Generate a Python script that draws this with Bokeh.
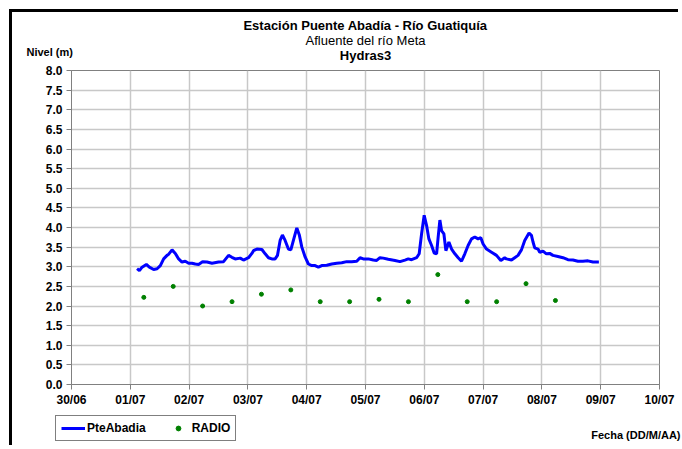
import numpy as np
import pandas as pd
from bokeh.plotting import figure
from bokeh.models import (FixedTicker, DatetimeTickFormatter, PrintfTickFormatter,
                          Legend, LegendItem, Range1d, Label)
from bokeh.embed import file_html
from bokeh.resources import INLINE

# ---------------- data ----------------
START = pd.Timestamp("2009-06-30 00:00")
TICK_LABELS = ["30/06", "01/07", "02/07", "03/07", "04/07", "05/07",
               "06/07", "07/07", "08/07", "09/07", "10/07"]
Y_TICKS = [0.0, 0.5, 1.0, 1.5, 2.0, 2.5, 3.0, 3.5, 4.0, 4.5, 5.0, 5.5, 6.0, 6.5, 7.0, 7.5, 8.0]

# PteAbadia: time in days after 30/06 00:00, level in m
pte_days = [1.115, 1.155, 1.200, 1.273, 1.324, 1.397, 1.455, 1.511, 1.567, 1.625,
            1.647, 1.710, 1.766, 1.822, 1.879, 1.935, 1.992, 2.049, 2.105, 2.161,
            2.229, 2.304, 2.389, 2.501, 2.586, 2.671, 2.728, 2.784, 2.869, 2.925,
            3.010, 3.068, 3.095, 3.153, 3.238, 3.294, 3.350, 3.407, 3.463, 3.503,
            3.548, 3.587, 3.633, 3.689, 3.730, 3.774, 3.832, 3.876, 3.917, 3.973,
            4.029, 4.087, 4.143, 4.199, 4.256, 4.341, 4.426, 4.511, 4.596, 4.681,
            4.766, 4.851, 4.907, 4.963, 5.048, 5.132, 5.190, 5.246, 5.302, 5.387,
            5.501, 5.586, 5.671, 5.727, 5.784, 5.869, 5.913, 5.954, 5.998, 6.039,
            6.078, 6.124, 6.168, 6.209, 6.236, 6.265, 6.294, 6.333, 6.367, 6.418,
            6.464, 6.520, 6.576, 6.633, 6.689, 6.745, 6.803, 6.859, 6.915, 6.961,
            7.000, 7.058, 7.143, 7.228, 7.301, 7.368, 7.397, 7.482, 7.538, 7.594,
            7.652, 7.708, 7.781, 7.822, 7.849, 7.878, 7.934, 7.963, 8.019, 8.076,
            8.132, 8.188, 8.273, 8.358, 8.443, 8.528, 8.613, 8.698, 8.783, 8.868,
            8.969]
pte_level = [2.95, 2.90, 2.99, 3.06, 2.99, 2.93, 2.95, 3.03, 3.20, 3.29,
             3.31, 3.43, 3.34, 3.20, 3.12, 3.14, 3.09, 3.09, 3.07, 3.06,
             3.13, 3.12, 3.09, 3.12, 3.13, 3.29, 3.24, 3.20, 3.22, 3.17,
             3.23, 3.34, 3.41, 3.45, 3.44, 3.33, 3.23, 3.20, 3.20, 3.29,
             3.67, 3.81, 3.67, 3.45, 3.43, 3.67, 3.99, 3.80, 3.50, 3.25,
             3.07, 3.03, 3.03, 2.99, 3.03, 3.04, 3.07, 3.09, 3.10, 3.13,
             3.13, 3.14, 3.23, 3.20, 3.20, 3.17, 3.16, 3.23, 3.22, 3.19,
             3.16, 3.13, 3.17, 3.20, 3.18, 3.23, 3.33, 3.84, 4.31, 4.05,
             3.71, 3.54, 3.35, 3.33, 3.76, 4.19, 3.92, 3.84, 3.41, 3.63,
             3.45, 3.33, 3.23, 3.14, 3.33, 3.54, 3.71, 3.76, 3.71, 3.74,
             3.58, 3.45, 3.37, 3.29, 3.16, 3.23, 3.20, 3.17, 3.23, 3.29,
             3.43, 3.67, 3.86, 3.80, 3.63, 3.48, 3.45, 3.37, 3.40, 3.33,
             3.34, 3.29, 3.26, 3.23, 3.18, 3.17, 3.14, 3.14, 3.15, 3.12,
             3.12]

# RADIO readings
radio_days = [1.23, 1.73, 2.23, 2.73, 3.23, 3.73, 4.23, 4.73,
              5.23, 5.73, 6.23, 6.73, 7.23, 7.73, 8.23]
radio_level = [2.22, 2.50, 2.00, 2.11, 2.30, 2.41, 2.11, 2.11,
               2.17, 2.11, 2.80, 2.11, 2.11, 2.57, 2.14]

SERIES_NAMES = ["PteAbadia", "RADIO"]
SERIES_COLORS = ["#0000ff", "#008000"]

pte_t = START + pd.to_timedelta(np.array(pte_days), unit="D")
radio_t = START + pd.to_timedelta(np.array(radio_days), unit="D")
tick_t = [START + pd.Timedelta(days=i) for i in range(len(TICK_LABELS))]
tick_ms = [t.value / 1e6 for t in tick_t]

FONT = "Liberation Sans"

# ---------------- main chart ----------------
p = figure(width=669, height=436, x_axis_type="datetime",
           output_backend="svg", toolbar_location=None,
           min_border_left=59, min_border_right=22,
           min_border_top=58, min_border_bottom=64,
           x_range=Range1d(tick_t[0], tick_t[-1]), y_range=Range1d(0, 8))
p.styles = {"border-top": "3px solid black", "border-left": "3px solid black",
            "margin-left": "9px", "margin-top": "9px"}

p.outline_line_color = "#808080"
p.outline_line_width = 1

for g in (p.xgrid, p.ygrid):
    g.grid_line_color = "#c8c8c8"
    g.grid_line_width = 1.5
p.xgrid.ticker = FixedTicker(ticks=tick_ms)
p.ygrid.ticker = FixedTicker(ticks=Y_TICKS)

p.xaxis.ticker = FixedTicker(ticks=tick_ms)
p.xaxis.formatter = DatetimeTickFormatter(days="%d/%m", months="%d/%m", hours="%d/%m",
                                          years="%d/%m")
p.yaxis.ticker = FixedTicker(ticks=Y_TICKS)
p.yaxis.formatter = PrintfTickFormatter(format="%.1f")
for ax in (p.xaxis, p.yaxis):
    ax.axis_line_color = "#808080"
    ax.major_tick_line_color = "#808080"
    ax.major_tick_in = 0
    ax.major_tick_out = 5
    ax.minor_tick_line_color = None
    ax.major_label_text_font = FONT
    ax.major_label_text_font_style = "bold"
    ax.major_label_text_font_size = "12px"
    ax.major_label_text_color = "black"
p.yaxis.major_label_standoff = 4
p.xaxis.major_label_standoff = 3

p.line(pte_t, pte_level, line_color=SERIES_COLORS[0], line_width=3)
p.scatter(radio_t, radio_level, size=4, fill_color=SERIES_COLORS[1],
          line_color=SERIES_COLORS[1])

# ---------------- transparent text/legend layer (page pixel coordinates) -----
t = figure(width=682, height=449, output_backend="svg", toolbar_location=None,
           x_range=Range1d(0, 682), y_range=Range1d(449, 0),
           x_axis_location=None, y_axis_location=None, min_border=0)
t.grid.visible = False
t.outline_line_color = None
t.background_fill_alpha = 0
t.border_fill_alpha = 0
t.styles = {"position": "absolute", "left": "0px", "top": "0px", "z-index": "2",
            "pointer-events": "none"}


def lbl(text, x, y, size, style, align):
    t.add_layout(Label(x=x, y=y, text=text, text_font=FONT, text_font_size=size,
                       text_font_style=style, text_align=align,
                       text_baseline="middle", text_color="black"))


lbl("Estación Puente Abadía - Río Guatiquía", 365, 25, "13px", "bold", "center")
lbl("Afluente del río Meta", 365, 40, "13px", "normal", "center")
lbl("Hydras3", 365, 55, "13px", "bold", "center")
lbl("Nivel (m)", 26, 51, "11px", "bold", "left")
lbl("Fecha (DD/M/AA)", 680, 434, "11px", "bold", "right")

# legend keys: same series, hidden in this layer (only their legend swatches show)
k_line = t.line(pte_days, pte_level, line_color=SERIES_COLORS[0], line_width=3,
                visible=False)
k_pts = t.scatter(radio_days, radio_level, size=3, fill_color=SERIES_COLORS[1],
                  line_color=SERIES_COLORS[1], visible=False)
legend = Legend(items=[LegendItem(label=SERIES_NAMES[0], renderers=[k_line]),
                       LegendItem(label=SERIES_NAMES[1], renderers=[k_pts])],
                orientation="horizontal", location=(55, 8),
                label_text_font=FONT, label_text_font_style="bold",
                label_text_font_size="12px", label_text_color="black",
                label_standoff=2,
                glyph_width=24, glyph_height=12, label_height=12,
                spacing=20, padding=5, margin=0,
                border_line_color="black", border_line_width=1,
                background_fill_color="white", background_fill_alpha=1,
                inactive_fill_alpha=0)
t.add_layout(legend, "center")

open("out.html", "w").write(file_html([p, t], INLINE))
